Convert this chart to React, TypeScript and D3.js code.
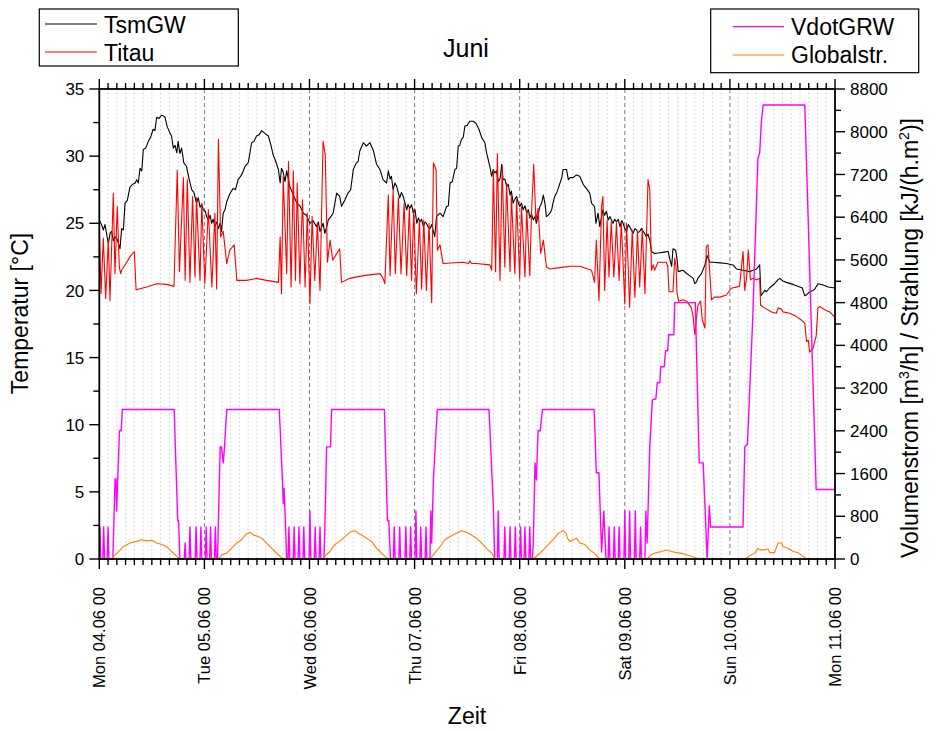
import React from "react";
import * as d3 from "d3";

// ---------- DATA ----------
const dayLabels = [
  "Mon 04.06 00", "Tue 05.06 00", "Wed 06.06 00", "Thu 07.06 00",
  "Fri 08.06 00", "Sat 09.06 00", "Sun 10.06 00", "Mon 11.06 00",
];
const leftTicks = [0, 5, 10, 15, 20, 25, 30, 35];
const rightTicks = [0, 800, 1600, 2400, 3200, 4000, 4800, 5600, 6400, 7200, 8000, 8800];

// [hour since Mon 04.06 00:00, temperature °C]
const tsmGW: [number, number][] = [
  [0,25.25],[0.5,24.9],[0.92,24.5],[1.3,24.9],[2.06,23.5],[2.5,24.3],[2.82,24.4],[3.2,23.7],[3.58,24.0],[4.1,23.8],[4.73,23.1],[5.1,24.6],[5.5,24.5],[5.87,26.5],[6.4,26.7],[7.0,27.7],[7.6,27.9],[8.2,28.0],[8.53,28.25],[8.9,28.0],[9.3,29.1],[9.7,28.9],[10.05,30.5],[10.6,30.6],[11.2,31.1],[11.7,31.4],[12.3,32.0],[12.7,31.9],[13.1,32.9],[13.6,32.8],[14.2,33.05],[14.6,33.0],[15.0,32.9],[15.5,32.2],[16.1,31.75],[16.5,31.5],[16.9,30.6],[17.3,30.8],[17.7,30.25],[18.0,31.1],[18.4,30.2],[18.8,30.6],[19.3,29.5],[19.9,29.25],[20.5,28.3],[21.1,27.5],[21.6,27.3],[22.2,26.5],[22.6,26.9],[23.0,26.2],[23.4,26.4],[23.75,26.0],[24.2,25.9],[24.5,25.5],[24.9,25.25],[25.3,25.6],[25.65,25.0],[26.0,25.3],[26.4,24.75],[26.8,25.1],[27.2,24.6],[27.6,25.0],[27.9,24.4],[28.3,25.75],[28.7,26.0],[29.1,26.6],[29.8,27.2],[30.6,27.6],[31.1,27.5],[31.7,28.25],[32.5,28.6],[33.3,29.25],[34.0,29.5],[34.8,31.0],[35.3,31.1],[35.9,31.5],[36.5,31.6],[37.1,31.9],[37.8,31.7],[38.6,31.5],[39.2,30.8],[39.7,30.1],[40.3,29.6],[40.9,29.0],[41.3,28.0],[41.6,29.1],[42.0,28.8],[42.4,28.1],[42.8,28.9],[43.5,27.75],[44.3,27.1],[45.1,26.5],[45.8,26.3],[46.6,25.75],[47.3,25.6],[48.1,25.0],[48.8,25.2],[49.6,24.75],[50.0,25.1],[50.4,24.4],[51.1,25.0],[51.5,24.25],[51.9,24.7],[52.3,25.25],
  [52.66,25.4],[53.4,25.75],[54.2,27.25],[54.9,27.0],[55.3,26.25],[56.1,26.75],[56.8,27.25],[57.4,27.5],[58.0,29.0],[58.7,29.5],[59.1,29.6],[59.5,30.4],[60.3,31.0],[61.0,30.75],[61.8,31.0],[62.6,30.4],[63.3,29.4],[64.1,29.0],[64.8,28.25],[65.6,28.0],[66.0,28.9],[66.4,28.3],[66.7,28.5],[67.1,27.5],[67.5,28.0],[67.9,27.75],[68.6,26.9],[69.0,27.3],[69.4,27.0],[70.2,26.0],[70.5,26.4],[70.9,26.1],[71.3,26.4],[71.7,25.75],[72.1,26.0],[72.5,25.0],[72.9,25.4],[73.2,25.1],[73.6,25.3],[74.0,24.75],[74.4,25.1],[74.7,25.0],[75.1,24.7],[75.5,24.6],[75.9,24.9],[76.3,24.4],[76.6,24.0],[77.0,25.5],[77.8,25.75],[78.5,25.5],[79.3,26.25],[79.7,26.3],[80.1,28.0],[80.6,28.1],[81.2,29.0],[81.6,29.1],[81.96,30.75],[82.3,30.8],[82.7,31.25],[83.1,31.4],[83.5,32.25],[84.0,32.3],[84.6,32.6],[85.4,32.6],[86.1,32.4],[86.7,32.0],[87.3,31.4],[88.05,31.0],[88.4,30.3],[88.8,29.75],[89.2,29.2],[89.6,28.5],[89.95,29.0],[90.3,28.75],[90.7,28.9],[91.1,28.1],[91.5,28.3],[91.9,29.4],[92.2,28.25],[92.6,28.3],[93.0,27.75],[93.4,27.9],[93.8,27.1],[94.1,27.4],[94.5,26.5],[94.9,26.8],[95.3,27.0],[95.6,26.6],[96.0,26.25],[96.4,26.5],[96.8,26.0],[97.2,26.3],[97.6,25.75],[98.0,26.0],[98.3,25.4],[98.7,25.7],[99.1,25.25],[99.5,25.5],[99.8,25.0],[100.2,25.6],[100.6,26.25],[101.0,26.5],[101.4,27.1],[101.8,26.4],[102.1,25.5],[102.5,25.6],[102.9,25.75],[103.3,26.0],[103.6,26.5],[104.0,27.0],[104.4,27.25],[104.8,27.6],[105.2,28.0],[105.6,28.4],[105.9,29.0],[106.7,29.0],[107.1,28.25],[107.5,28.4],[108.2,28.4],[108.96,28.6],[109.7,28.5],
  [110.5,27.9],[111.2,27.6],[112.0,27.25],[112.4,26.5],[113.1,26.25],[113.4,25.0],[113.9,25.75],[114.3,24.75],[115.0,26.0],[115.4,25.6],[115.8,25.9],[116.2,25.25],[116.6,25.5],[117.0,25.2],[117.3,25.0],[117.7,25.3],[118.1,25.1],[118.5,25.3],[118.9,24.75],[119.3,25.2],[119.6,25.0],[120.0,24.6],[120.4,24.4],[120.8,24.9],[121.1,24.75],[121.5,24.5],[121.9,24.25],[122.3,24.6],[122.7,24.5],[123.0,24.3],[123.4,24.4],[123.8,24.6],[124.2,24.4],[124.6,24.2],[124.9,24.0],[125.3,24.2],[125.7,23.75],[126.1,22.9],[126.8,22.75],[128.0,22.8],[129.0,22.85],[129.9,22.9],[130.3,22.3],[130.7,21.8],[131.0,23.1],[131.6,23.0],[131.9,22.4],[132.2,21.4],[133.3,21.5],[134.0,21.3],[134.8,21.1],[135.6,20.9],[136.0,20.5],[136.3,20.6],[136.7,20.9],[137.5,21.25],[138.3,21.9],[138.8,22.6],[139.4,22.1],[140.2,22.1],[141.7,22.05],[143.2,22.0],[144.7,21.9],[145.5,21.6],[147.0,21.5],[148.5,21.4],[149.3,21.5],[150.1,21.6],[150.8,21.9],[151.1,19.6],[151.95,20.0],[152.3,19.9],[153.1,20.2],[154.2,20.5],[155.0,20.8],[155.4,20.9],[156.1,20.7],[156.9,20.6],[158.4,20.45],[159.9,20.25],[160.5,20.2],[161.1,19.6],[161.6,19.7],[162.2,19.9],[163.0,20.0],[163.4,20.1],[164.1,20.5],[165.3,20.4],[166.4,20.25],[167.6,20.2],[168,20.2],
];

const titau: [number, number][] = [
  [0,25.0],[0.39,19.75],[0.92,23.9],[1.45,19.4],[2.06,23.75],[2.44,19.25],[3.2,27.25],[3.58,21.25],[4.1,26.25],[4.57,21.75],[4.88,21.25],[5.1,21.5],[6.25,22.1],[7.0,22.5],[8.0,22.9],[8.4,20.05],[10.8,20.25],[13.1,20.5],[15.4,20.45],[17.05,20.3],[17.8,28.95],[18.3,21.4],[19.2,28.4],[19.6,20.75],[20.1,28.25],[20.7,20.6],[21.3,27.0],[21.85,21.0],[22.2,26.9],[23.0,20.75],[23.4,26.5],[24.1,20.5],[24.9,26.0],[25.7,20.25],[26.4,25.75],[26.8,20.1],[27.2,31.25],[27.7,24.0],[28.3,24.4],[29.1,22.0],[29.8,23.0],[30.8,23.4],[31.4,20.75],[33.6,20.75],[35.9,20.9],[38.2,20.75],[40.9,20.6],[41.3,24.0],[41.6,19.75],[42.0,28.5],[42.8,21.25],[43.2,29.6],[43.8,20.25],[44.3,28.9],[44.8,20.75],[45.2,28.0],[45.8,20.5],[46.4,26.75],[47.0,20.25],[47.5,25.75],[48.1,19.0],[48.6,25.5],[49.2,20.75],[49.8,25.0],[50.4,20.0],[51.1,31.1],[51.6,30.1],[52.1,22.1],[52.7,23.75],[53.3,22.25],[54.9,23.1],[55.3,20.6],[57.2,20.9],[60.3,21.1],[64.1,21.25],[64.8,20.9],[65.2,20.5],[66.0,27.1],[66.4,21.1],[67.1,27.5],[67.6,21.25],[68.3,26.9],[68.9,21.25],[69.6,26.5],[70.2,21.1],[70.8,26.1],[71.3,20.75],[71.8,26.0],[72.4,19.75],[73.1,25.25],[73.6,20.1],[74.1,25.25],[74.7,20.0],[75.3,25.0],[75.9,19.1],[76.3,29.5],[76.9,29.0],[77.2,23.0],[77.8,23.4],[78.5,22.0],[83.1,22.1],[84.3,22.0],[84.6,22.2],[85.0,22.0],[86.1,22.0],[89.2,21.9],[89.6,21.5],[90.0,28.9],[90.5,21.4],[90.9,30.2],[91.5,20.75],[92.0,29.25],[92.6,21.75],[93.0,28.0],[93.8,21.4],[94.1,27.1],[94.9,21.25],[95.3,26.75],[96.0,20.9],[96.4,26.25],[97.2,21.0],[97.6,26.0],[98.3,21.1],[98.7,25.75],[99.2,29.4],[99.7,25.25],[100.2,26.1],[100.8,22.75],[101.4,23.75],[102.1,21.75],[102.9,21.6],[105.2,21.7],[107.5,21.8],[109.7,21.8],[112.4,21.5],[113.1,20.6],[113.5,23.75],[114.1,19.25],[114.7,26.25],[115.0,27.0],[115.4,20.0],[115.96,25.25],[116.4,21.0],[116.9,25.1],[117.5,21.0],[118.1,25.0],[118.7,20.75],[119.2,25.1],[120.0,19.0],[120.4,25.0],[121.1,18.75],[121.7,24.5],[122.3,19.5],[122.9,24.4],[123.4,20.25],[124.0,24.6],[124.6,19.75],[125.3,28.25],[125.7,27.5],[126.1,21.5],[126.5,21.9],[126.8,21.5],[127.6,22.1],[129.5,22.1],[129.8,21.8],[130.1,19.9],[131.0,19.9],[131.4,22.4],[131.7,21.8],[131.9,19.9],[132.3,19.2],[133.3,19.3],[134.1,19.2],[135.2,18.7],[135.6,18.05],[136.0,16.7],[136.4,18.05],[136.7,18.9],[137.3,19.2],[137.7,17.8],[138.3,17.2],[138.6,23.26],[139.0,23.4],[139.4,21.3],[139.8,19.3],[140.5,19.5],[141.7,19.5],[143.2,19.66],[144.3,20.16],[146.2,20.3],[147.0,22.9],[147.4,20.0],[147.8,20.9],[148.2,23.0],[148.7,20.8],[149.3,20.9],[150.1,20.8],[150.8,20.9],[151.0,18.9],[151.95,18.7],[153.5,18.4],[154.6,18.3],[155.0,18.7],[155.8,18.6],[156.1,18.4],[157.7,18.3],[159.2,18.05],[160.3,17.8],[161.1,17.55],[161.5,16.2],[161.9,16.3],[162.2,15.4],[163.0,15.7],[163.7,16.6],[164.1,18.7],[164.5,18.8],[165.7,18.55],[166.8,18.4],[168,18.0],
];

// [hour, m³/h]
const vdotGRW: [number, number][] = [
  [0,600],[0.15,600],[0.3,0],[0.8,0],[1.0,600],[1.2,0],[1.8,0],[2.0,600],[2.2,0],[3.1,0],[3.6,1500],[3.8,1500],[3.96,900],[4.2,1480],[4.6,2400],[5.0,2400],[5.26,2800],[17.1,2800],[17.9,720],[18.1,720],[18.4,0],[19.4,0],[19.6,300],[19.8,0],[20.5,0],[20.7,600],[20.9,0],[21.9,0],[22.1,600],[22.3,0],[23.0,0],[23.2,600],[23.4,0],[24.2,0],[24.4,600],[24.6,0],[25.2,0],[25.4,600],[25.6,0],[26.3,0],[26.5,600],[26.7,0],[27.0,0],[27.6,2100],[27.9,2100],[28.3,1800],[28.6,2100],[29.1,2800],
  [41.1,2800],[41.9,1320],[42.0,1040],[42.2,1320],[42.8,0],[43.1,0],[43.3,600],[43.5,0],[44.3,0],[44.5,600],[44.7,0],[45.4,0],[45.6,600],[45.8,0],[46.5,0],[46.7,600],[46.9,0],[47.9,0],[48.1,900],[48.3,0],[49.1,0],[49.3,600],[49.5,0],[50.2,0],[50.4,600],[50.6,0],[51.3,0],[51.5,550],[51.9,2100],[52.8,2100],[53.05,2800],
  [65.1,2800],[65.8,720],[66.1,720],[66.5,0],[67.15,0],[67.35,600],[67.55,0],[68.4,0],[68.6,600],[68.8,0],[69.8,0],[70.0,600],[70.2,0],[70.9,0],[71.1,600],[71.3,0],[72.1,0],[72.3,900],[72.5,0],[73.2,0],[73.4,600],[73.6,0],[74.4,0],[74.6,600],[74.8,0],[75.5,0],[75.7,900],[75.9,300],[76.3,1480],[76.9,2400],[77.2,2800],
  [89.0,2800],[89.8,1300],[89.95,1040],[90.3,0],[90.9,0],[91.1,900],[91.3,0],[92.4,0],[92.6,600],[92.8,0],[93.6,0],[93.8,600],[94.0,0],[94.8,0],[95.0,600],[95.2,0],[96.0,0],[96.2,600],[96.4,0],[97.0,0],[97.2,600],[97.4,0],[98.1,0],[98.3,600],[98.5,0],[98.9,0],[99.1,300],[99.5,1800],[99.8,1480],[100.2,2400],[100.7,2400],[101.2,2800],
  [113.0,2800],[113.5,1616],[114.1,1616],[114.7,130],[115.2,900],[115.7,0],[116.2,0],[116.4,600],[116.6,0],[117.4,0],[117.6,600],[117.8,0],[118.5,0],[118.7,600],[118.9,0],[119.8,0],[120.0,900],[120.2,0],[120.9,0],[121.1,900],[121.3,0],[122.2,0],[122.4,900],[122.6,0],[123.4,0],[123.6,600],[123.8,0],[124.6,0],[124.8,900],[125.1,300],[125.7,2100],[126.3,2980],[127.1,3000],[127.4,3300],[128.0,3300],[128.2,3600],[129.0,3600],[129.3,3900],[129.8,3900],[130.0,4200],[131.2,4200],[131.4,4800],[136.1,4800],[137.0,1800],[137.9,1800],[138.8,0],[139.3,1000],[139.6,600],
  [147.0,600],[147.4,2100],[148.0,2150],[149.2,4470],[150.4,7500],[150.8,7600],[151.2,8200],[151.6,8500],[161.1,8500],[163.7,1300],[168,1300],
];

// [hour, kJ/(h.m²)]
const globalstr: [number, number][] = [
  [0,0],[2.8,0],[4.0,106],[5.5,231],[7.0,300],[8.5,330],[9.7,360],[10.8,340],[12.0,350],[13.1,300],[14.3,270],[15.4,230],[16.5,140],[17.7,50],[18.4,0],
  [27.2,0],[28.0,80],[29.1,110],[30.2,200],[31.4,300],[32.5,360],[33.6,470],[34.4,500],[35.2,450],[36.3,420],[37.1,390],[37.8,330],[39.0,230],[40.1,140],[41.3,50],[42.0,0],
  [51.0,0],[51.5,50],[52.66,140],[53.8,270],[54.9,330],[56.1,420],[57.2,500],[58.4,530],[59.1,480],[59.9,450],[61.0,390],[62.2,330],[63.3,200],[64.1,140],[65.2,50],[66.0,0],
  [75.5,0],[76.6,110],[77.8,230],[78.9,360],[80.1,420],[81.2,470],[82.7,530],[83.9,500],[85.0,450],[86.1,390],[87.3,300],[88.4,200],[89.6,110],[90.3,0],
  [99.1,0],[100.2,80],[101.4,170],[102.5,270],[103.6,360],[104.8,480],[105.9,530],[106.6,480],[106.9,390],[107.4,330],[108.2,360],[109.0,390],[109.7,300],[110.9,270],[112.0,170],[113.1,100],[114.3,0],
  [125.0,0],[126.1,80],[127.2,120],[128.4,140],[129.5,170],[130.7,140],[131.8,120],[133.3,100],[134.8,60],[136.4,20],[137.9,0],
  [147.4,0],[148.5,60],[149.7,110],[150.4,200],[150.8,170],[152.0,170],[152.7,190],[153.1,120],[154.2,120],[155.0,300],[155.8,300],[156.1,230],[157.3,200],[158.4,140],[159.6,120],[160.7,50],[161.5,0],[168,0],
];

// ---------- LAYOUT ----------
const W = 936, H = 731;
const L = 99.3, R = 835, T = 89, B = 559;
const FONT = "'Liberation Sans', Arial, Helvetica, sans-serif";

export default function App() {
  const x = d3.scaleLinear().domain([0, 168]).range([L, R]);
  const yL = d3.scaleLinear().domain([0, 35]).range([B, T]);
  const yR = d3.scaleLinear().domain([0, 8800]).range([B, T]);

  const lineL = d3.line<[number, number]>().x(d => x(d[0])).y(d => yL(d[1]));
  const lineR = d3.line<[number, number]>().x(d => x(d[0])).y(d => yR(d[1]));

  const hours2 = d3.range(0, 169, 2);
  const leftMinor = d3.range(0, 35.01, 2.5);
  const rightMinor = d3.range(0, 8801, 400);

  return (
    <svg width={W} height={H} style={{ position: "absolute", left: 0, top: 0, background: "#fff" }}
      fontFamily={FONT}>
      <rect x={0} y={0} width={W} height={H} fill="#fff" />
      <defs>
        <clipPath id="plotclip">
          <rect x={L} y={T - 1} width={R - L} height={B - T + 2} />
        </clipPath>
      </defs>

      {/* grid */}
      {hours2.filter(h => h % 24 !== 0).map(h => (
        <line key={"g" + h} x1={x(h)} x2={x(h)} y1={T} y2={B} stroke="#cfcfcf" strokeWidth={1} strokeDasharray="1.5,2.5" />
      ))}
      {d3.range(24, 168, 24).map(h => (
        <line key={"d" + h} x1={x(h)} x2={x(h)} y1={T} y2={B} stroke="#7a7a7a" strokeWidth={1} strokeDasharray="4,3" />
      ))}

      {/* data */}
      <g clipPath="url(#plotclip)" fill="none" strokeLinejoin="round">
        <path d={lineL(tsmGW) || ""} stroke="#000" strokeWidth={1.1} />
        <path d={lineL(titau) || ""} stroke="#ff0000" strokeWidth={1.1} />
        <path d={lineR(vdotGRW) || ""} stroke="#ff00ff" strokeWidth={1.4} />
        <path d={lineR(globalstr) || ""} stroke="#ff8000" strokeWidth={1.1} />
      </g>

      {/* frame */}
      <rect x={L} y={T} width={R - L} height={B - T} fill="none" stroke="#000" strokeWidth={1.8} />

      {/* top & bottom ticks */}
      {hours2.map(h => {
        const len = h % 24 === 0 ? 10 : 6;
        return (
          <g key={"t" + h}>
            <line x1={x(h)} x2={x(h)} y1={T} y2={T - len} stroke="#000" strokeWidth={1.4} />
            <line x1={x(h)} x2={x(h)} y1={B} y2={B + len} stroke="#000" strokeWidth={1.4} />
          </g>
        );
      })}

      {/* left ticks */}
      {leftMinor.map(v => {
        const major = Math.abs(v % 5) < 1e-6;
        return <line key={"l" + v} x1={L} x2={L - (major ? 10 : 6)} y1={yL(v)} y2={yL(v)} stroke="#000" strokeWidth={1.4} />;
      })}
      {leftTicks.map(v => (
        <text key={"lt" + v} x={L - 15} y={yL(v)} dy="0.36em" textAnchor="end" fontSize={17} fill="#000">{v}</text>
      ))}

      {/* right ticks */}
      {rightMinor.map(v => {
        const major = v % 800 === 0;
        return <line key={"r" + v} x1={R} x2={R + (major ? 10 : 6)} y1={yR(v)} y2={yR(v)} stroke="#000" strokeWidth={1.4} />;
      })}
      {rightTicks.map(v => (
        <text key={"rt" + v} x={R + 15} y={yR(v)} dy="0.36em" textAnchor="start" fontSize={17} fill="#000">{v}</text>
      ))}

      {/* x tick labels */}
      {dayLabels.map((lab, i) => (
        <text key={lab} transform={`translate(${x(i * 24) + 6},587) rotate(-90)`} textAnchor="end" fontSize={16.5} fill="#000">{lab}</text>
      ))}

      {/* axis titles */}
      <text x={467} y={724} textAnchor="middle" fontSize={23} fill="#000">Zeit</text>
      <text transform="translate(28,313.5) rotate(-90)" textAnchor="middle" fontSize={23} fill="#000">Temperatur [°C]</text>
      <text transform="translate(918,338) rotate(-90)" textAnchor="middle" fontSize={23} fill="#000">
        Volumenstrom [m<tspan fontSize={14} dy={-9}>3</tspan><tspan dy={9}>/h] / Strahlung [kJ/(h.m</tspan><tspan fontSize={14} dy={-9}>2</tspan><tspan dy={9}>)]</tspan>
      </text>

      {/* title */}
      <text x={466} y={57} textAnchor="middle" fontSize={25} fill="#000">Juni</text>

      {/* left legend */}
      <rect x={39.3} y={9} width={199} height={57} fill="#fff" stroke="#000" strokeWidth={1.2} />
      <line x1={45} x2={97} y1={24} y2={24} stroke="#000" strokeWidth={1.1} />
      <text x={104} y={33} fontSize={23} fill="#000">TsmGW</text>
      <line x1={45} x2={97} y1={52} y2={52} stroke="#ff0000" strokeWidth={1.1} />
      <text x={104} y={61} fontSize={23} fill="#000">Titau</text>

      {/* right legend */}
      <rect x={710.7} y={9} width={208} height={63.7} fill="#fff" stroke="#000" strokeWidth={1.2} />
      <line x1={732.7} x2={784} y1={26.7} y2={26.7} stroke="#ff00ff" strokeWidth={1.2} />
      <text x={791} y={35} fontSize={23} fill="#000">VdotGRW</text>
      <line x1={732.7} x2={784} y1={55} y2={55} stroke="#ff8000" strokeWidth={1.1} />
      <text x={791} y={63} fontSize={23} fill="#000">Globalstr.</text>
    </svg>
  );
}
